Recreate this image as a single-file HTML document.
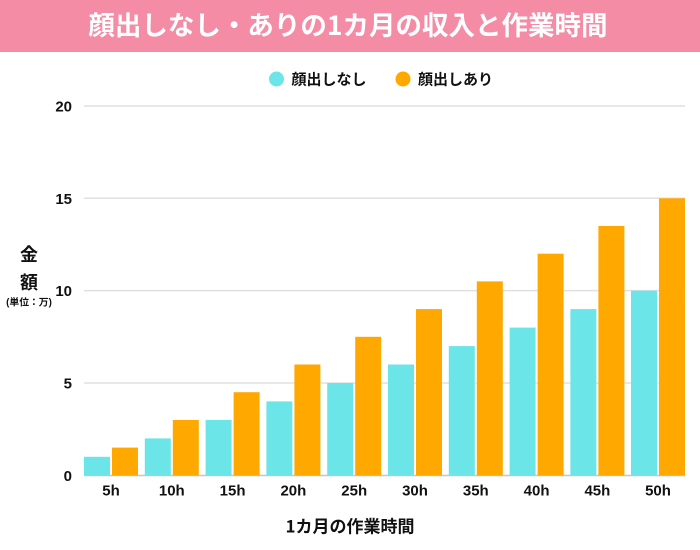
<!DOCTYPE html>
<html><head><meta charset="utf-8"><style>
html,body{margin:0;padding:0;background:#fff;}
svg{display:block;}
text{font-family:"Liberation Sans","Noto Sans CJK JP",sans-serif;font-weight:bold;}
</style></head><body>
<svg width="700" height="550" viewBox="0 0 700 550" xmlns="http://www.w3.org/2000/svg">
<rect x="0" y="0" width="700" height="52" fill="#F48CA6"/>
<text x="348" y="35" font-size="26.5" fill="#fff" text-anchor="middle" style="font-family:'Noto Sans CJK JP','Liberation Sans',sans-serif">顔出しなし・ありの1カ月の収入と作業時間</text>

<circle cx="276.5" cy="79" r="7.5" fill="#6CE5E8"/>
<text x="291.5" y="84.5" font-size="15" fill="#111" style="font-family:'Noto Sans CJK JP',sans-serif">顔出しなし</text>
<circle cx="403" cy="79" r="7.5" fill="#FFA800"/>
<text x="418" y="84.5" font-size="15" fill="#111" style="font-family:'Noto Sans CJK JP',sans-serif">顔出しあり</text>

<g stroke="#e2dfdf" stroke-width="1.5">
<line x1="84" y1="106" x2="685" y2="106"/>
<line x1="84" y1="198.3" x2="685" y2="198.3"/>
<line x1="84" y1="290.6" x2="685" y2="290.6"/>
<line x1="84" y1="383" x2="685" y2="383"/>
</g>

<g font-size="15" fill="#111" text-anchor="end">
<text x="72" y="111.5">20</text>
<text x="72" y="204">15</text>
<text x="72" y="296">10</text>
<text x="72" y="388.5">5</text>
<text x="72" y="481">0</text>
</g>

<g style="font-family:'Noto Sans CJK JP',sans-serif" fill="#111" text-anchor="middle">
<text x="29" y="261" font-size="18">金</text>
<text x="29" y="289" font-size="18">額</text>
<text x="29" y="305.5" font-size="9.8">(単位：万)</text>
</g>

<line x1="84" y1="475.5" x2="685" y2="475.5" stroke="#c8c6c6" stroke-width="1.5"/>

<text x="350" y="532.5" font-size="17" fill="#111" text-anchor="middle" style="font-family:'Noto Sans CJK JP',sans-serif">1カ月の作業時間</text>

<g>
<rect x="84" y="456.8" width="26" height="18.7" fill="#6CE5E8"/>
<rect x="112" y="447.6" width="26" height="27.9" fill="#FFA800"/>
<rect x="144.8" y="438.4" width="26" height="37.1" fill="#6CE5E8"/>
<rect x="172.8" y="420" width="26" height="55.5" fill="#FFA800"/>
<rect x="205.6" y="419.9" width="26" height="55.6" fill="#6CE5E8"/>
<rect x="233.6" y="392.2" width="26" height="83.3" fill="#FFA800"/>
<rect x="266.4" y="401.4" width="26" height="74.1" fill="#6CE5E8"/>
<rect x="294.4" y="364.5" width="26" height="111" fill="#FFA800"/>
<rect x="327.2" y="383" width="26" height="92.5" fill="#6CE5E8"/>
<rect x="355.2" y="336.8" width="26" height="138.7" fill="#FFA800"/>
<rect x="388" y="364.5" width="26" height="111" fill="#6CE5E8"/>
<rect x="416" y="309.1" width="26" height="166.4" fill="#FFA800"/>
<rect x="448.8" y="346.1" width="26" height="129.4" fill="#6CE5E8"/>
<rect x="476.8" y="281.4" width="26" height="194.1" fill="#FFA800"/>
<rect x="509.6" y="327.6" width="26" height="147.9" fill="#6CE5E8"/>
<rect x="537.6" y="253.7" width="26" height="221.8" fill="#FFA800"/>
<rect x="570.4" y="309.1" width="26" height="166.4" fill="#6CE5E8"/>
<rect x="598.4" y="226" width="26" height="249.5" fill="#FFA800"/>
<rect x="631" y="290.7" width="26" height="184.8" fill="#6CE5E8"/>
<rect x="659" y="198.3" width="26" height="277.2" fill="#FFA800"/>
</g>

<g font-size="15" fill="#111" text-anchor="middle">
<text x="111" y="495.5">5h</text>
<text x="171.8" y="495.5">10h</text>
<text x="232.6" y="495.5">15h</text>
<text x="293.4" y="495.5">20h</text>
<text x="354.2" y="495.5">25h</text>
<text x="415" y="495.5">30h</text>
<text x="475.8" y="495.5">35h</text>
<text x="536.6" y="495.5">40h</text>
<text x="597.4" y="495.5">45h</text>
<text x="658" y="495.5">50h</text>
</g>
</svg>
</body></html>
